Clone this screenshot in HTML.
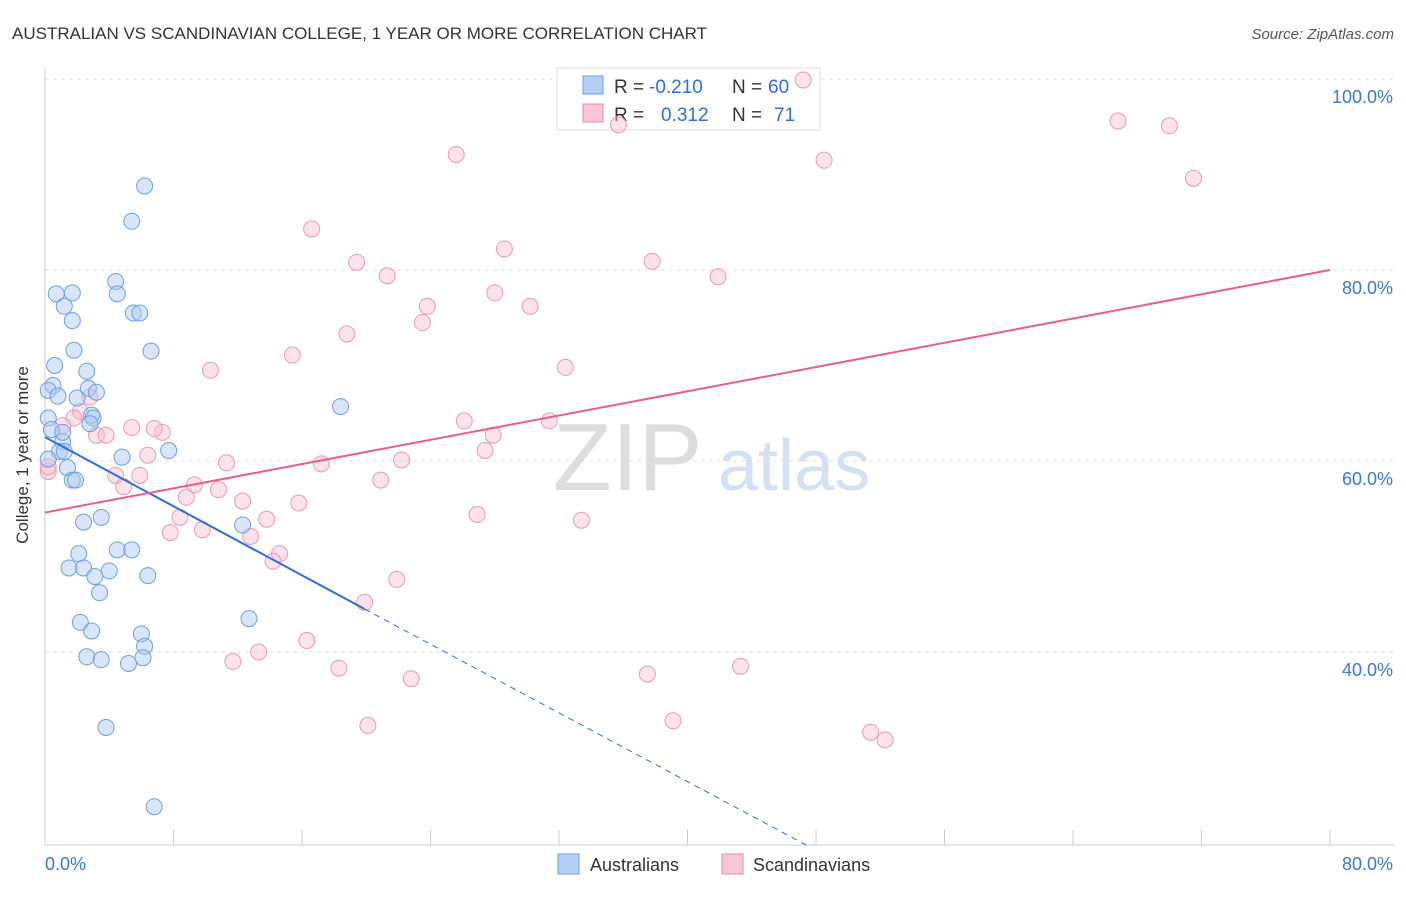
<!DOCTYPE html>
<html><head><meta charset="utf-8"><style>
body{margin:0;background:#fff;font-family:"Liberation Sans",sans-serif}
svg text{font-family:"Liberation Sans",sans-serif}
</style></head><body>
<svg id="chart" width="1406" height="892">
<text x="12" y="39" font-size="17" fill="#333">AUSTRALIAN VS SCANDINAVIAN COLLEGE, 1 YEAR OR MORE CORRELATION CHART</text>
<text x="1394" y="39" font-size="15" fill="#555" text-anchor="end" font-style="italic">Source: ZipAtlas.com</text>
<text x="553" y="490" font-size="96" fill="#ddd" font-family="Liberation Serif">ZIP</text>
<text x="718" y="490" font-size="72" fill="#d3e1f3">atlas</text>
<g id="grid"></g><g id="axes"></g>
<g>
<rect x="557" y="68" width="263" height="62" fill="#fff" stroke="#ddd"/>
<rect x="583" y="76" width="20" height="18" fill="#b5d0f5" stroke="#6a9fe0"/>
<rect x="583" y="104" width="20" height="18" fill="#f8c6d5" stroke="#e88aa8"/>
<text x="614" y="93" font-size="19" fill="#333">R =</text>
<text x="649" y="93" font-size="19" fill="#2d6fd6">-0.210</text>
<text x="732" y="93" font-size="19" fill="#333">N =</text>
<text x="768" y="93" font-size="19" fill="#2d6fd6">60</text>
<text x="614" y="121" font-size="19" fill="#333">R =</text>
<text x="661" y="121" font-size="19" fill="#2d6fd6">0.312</text>
<text x="732" y="121" font-size="19" fill="#333">N =</text>
<text x="774" y="121" font-size="19" fill="#2d6fd6">71</text>
</g>
<g id="pts"></g><g id="trend"></g>
<text x="28" y="455" font-size="17" fill="#333" transform="rotate(-90 28 455)" text-anchor="middle">College, 1 year or more</text>
<g>
<rect x="558" y="854" width="21" height="20" fill="#b5d0f5" stroke="#6a9fe0"/>
<text x="590" y="871" font-size="18" fill="#333">Australians</text>
<rect x="722" y="854" width="21" height="20" fill="#f8c6d5" stroke="#e88aa8"/>
<text x="753" y="871" font-size="18" fill="#333">Scandinavians</text>
</g>
</svg>
<script>
const yTicks=[100,80,60,40];
const xTickLabels=["0.0%","80.0%"];
const ausX=[6.2,5.4,4.4,4.5,0.7,1.7,1.2,1.7,5.5,5.9,6.6,1.8,0.6,2.6,0.5,0.2,0.8,2.0,2.7,3.2,2.9,3.0,2.8,0.2,18.4,1.1,0.9,1.2,7.7,4.8,1.4,1.7,1.9,3.5,2.4,12.3,2.1,4.5,5.4,1.5,2.4,4.0,3.1,6.4,3.4,2.2,2.9,12.7,6.0,6.2,2.6,3.5,6.1,5.2,3.8,6.8,0.2,0.4,1.1];
const ausY=[88.8,85.1,78.8,77.5,77.5,77.6,76.2,74.7,75.5,75.5,71.5,71.6,70.0,69.4,67.9,67.4,66.8,66.6,67.6,67.2,64.8,64.5,63.9,64.5,65.7,62.0,61.0,61.0,61.1,60.4,59.3,58.0,58.0,54.1,53.6,53.3,50.3,50.7,50.7,48.8,48.8,48.5,47.9,48.0,46.2,43.1,42.2,43.5,41.9,40.6,39.5,39.2,39.4,38.8,32.1,23.8,60.2,63.3,63.0];
const scaX=[47.2,35.7,66.8,70.0,25.6,48.5,71.5,16.6,28.6,19.4,37.8,21.3,41.9,28.0,23.8,30.2,23.5,18.8,15.4,10.3,32.4,2.8,2.2,26.1,31.4,1.8,1.1,5.4,3.2,3.8,7.3,6.8,27.9,6.4,27.4,11.3,17.2,22.2,0.2,4.4,5.9,9.3,20.9,4.9,10.8,8.8,15.8,12.3,26.9,8.4,13.8,33.4,7.8,9.8,12.8,14.6,14.2,21.9,19.9,16.3,13.3,11.7,18.3,37.5,43.3,22.8,20.1,39.1,51.4,52.3,0.2];
const scaY=[99.9,95.2,95.6,95.1,92.1,91.5,89.6,84.3,82.2,80.8,80.9,79.4,79.3,77.6,76.2,76.2,74.5,73.3,71.1,69.5,69.8,66.7,65.2,64.2,64.2,64.5,63.7,63.5,62.7,62.7,63.0,63.4,62.7,60.6,61.1,59.8,59.7,60.1,58.9,58.5,58.5,57.5,58.0,57.3,57.0,56.2,55.6,55.8,54.4,54.1,53.9,53.8,52.5,52.8,52.1,50.3,49.5,47.6,45.2,41.2,40.0,39.0,38.3,37.7,38.5,37.2,32.3,32.8,31.6,30.8,59.4];
const X=v=>45+v/80*1285, Y=v=>79+(100-v)*9.55;
const NS="http://www.w3.org/2000/svg";
function mk(p,t,a){const e=document.createElementNS(NS,t);for(const k in a)e.setAttribute(k,a[k]);p.appendChild(e);return e;}
const grid=document.getElementById('grid'),axes=document.getElementById('axes');
yTicks.forEach(v=>{
 const l=mk(grid,'line',{x1:45,x2:1394,y1:Y(v),y2:Y(v),stroke:'#ddd','stroke-dasharray':'4,4'});
 
 
 const t=mk(grid,'text',{x:1393,y:Y(v)+24,'font-size':18,fill:'#3a78d8','text-anchor':'end'});
 t.textContent=v.toFixed(1)+'%';
 
 
});
mk(axes,'line',{x1:45,x2:45,y1:68,y2:845,stroke:'#ccc'});
mk(axes,'line',{x1:45,x2:1394,y1:845,y2:845,stroke:'#ccc'});
for(let i=0;i<=10;i++){const x=X(i*8);const l=mk(axes,'line',{x1:x,x2:x,y1:830,y2:845,stroke:'#ccc'});
 
 }
[[45,'start',0],[1393,'end',1]].forEach(([x,a,i])=>{const t=mk(axes,'text',{x:x,y:870,'font-size':18,fill:'#3a78d8','text-anchor':a});t.textContent=xTickLabels[i];
 
 });
const pts=document.getElementById('pts');
scaX.forEach((v,i)=>{const c=mk(pts,'circle',{cx:X(v),cy:Y(scaY[i]),r:8,fill:'rgba(248,190,208,0.45)',stroke:'#e99ab3','stroke-width':1});
 
 });
ausX.forEach((v,i)=>{const c=mk(pts,'circle',{cx:X(v),cy:Y(ausY[i]),r:8,fill:'rgba(170,200,245,0.45)',stroke:'#6c9fe0','stroke-width':1});
 
 });
const tr=document.getElementById('trend');
let l=mk(tr,'line',{x1:X(0),y1:Y(62.5),x2:X(19.9),y2:Y(44.5),stroke:'#2d6fd6','stroke-width':2});


l=mk(tr,'line',{x1:X(19.9),y1:Y(44.5),x2:X(47.6),y2:Y(19.6),stroke:'#2d6fd6','stroke-width':1,'stroke-dasharray':'6,5'});


l=mk(tr,'line',{x1:X(0),y1:Y(54.6),x2:X(80),y2:Y(80.0),stroke:'#e55f8e','stroke-width':2});


</script>
</body></html>
